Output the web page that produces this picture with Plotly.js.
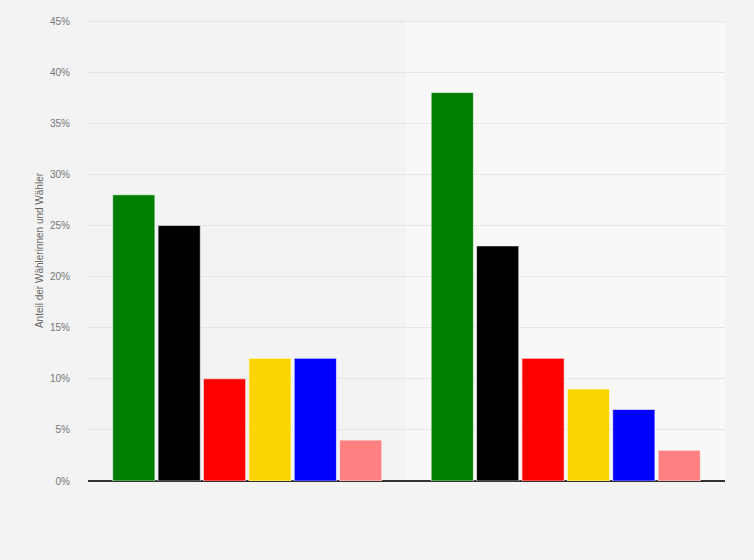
<!DOCTYPE html>
<html>
<head>
<meta charset="utf-8">
<script src="https://cdn.plot.ly/plotly-3.0.1.min.js"></script>
<style>
  html, body { margin: 0; padding: 0; background: #f3f3f3; }
  #chart { width: 754px; height: 560px; }
</style>
</head>
<body>
<div id="chart"></div>
<script>
// two groups, no axis labels shown in the source
const groups = ["Gruppe 1", "Gruppe 2"];
const parties = ["Grüne", "CDU", "SPD", "FDP", "AfD", "Linke"];
const partyColors = ["#007e00", "#000000", "#ff0000", "#fbd500", "#0000ff", "#ff8080"];
const shares = [
    [28, 38],
    [25, 23],
    [10, 12],
    [12, 9],
    [12, 7],
    [4, 3],
];
const yTicks = [0, 5, 10, 15, 20, 25, 30, 35, 40, 45];

let series = parties.map((name, i) => ({
    name: name,
    x: groups,
    y: shares[i],
    type: "bar",
    marker: {
        color: partyColors[i],
        line: { color: "rgba(255,255,255,0.6)", width: 1 },
    },
    hoverinfo: "skip",
}));

let layout = {
    width: 754,
    height: 560,
    paper_bgcolor: "#f3f3f3",
    plot_bgcolor: "#f3f3f3",
    font: { family: "Liberation Sans, Arial, sans-serif", size: 10, color: "#777" },
    margin: { l: 88, r: 29, t: 20, b: 79, pad: 0 },
    showlegend: false,
    barmode: "group",
    bargap: 0.145,
    bargroupgap: 0.07,
    xaxis: {
        showticklabels: false,
        ticks: "",
        showgrid: false,
        zeroline: false,
        showline: false,
        fixedrange: true,
    },
    yaxis: {
        range: [0, 45.1],
        tickvals: yTicks,
        ticktext: yTicks.map((v) => v + "%"),
        ticks: "outside",
        ticklen: 15,
        tickcolor: "rgba(0,0,0,0)",
        showgrid: true,
        gridcolor: "#d6d6d6",
        griddash: "1px,1px",
        gridwidth: 1,
        zeroline: true,
        zerolinecolor: "#333",
        zerolinewidth: 1.5,
        showline: false,
        tickfont: { size: 10, color: "#777" },
        title: {
            text: "Anteil der Wählerinnen und Wähler",
            font: { size: 10, color: "#666" },
            standoff: 4,
        },
        fixedrange: true,
    },
    shapes: [
        {
            type: "rect",
            xref: "x",
            yref: "paper",
            x0: 0.5,
            x1: 1.5,
            y0: 0,
            y1: 1,
            fillcolor: "#f8f8f8",
            line: { width: 0 },
            layer: "below",
        },
    ],
};

Plotly.newPlot("chart", series, layout, { displayModeBar: false, staticPlot: true });
</script>
</body>
</html>
